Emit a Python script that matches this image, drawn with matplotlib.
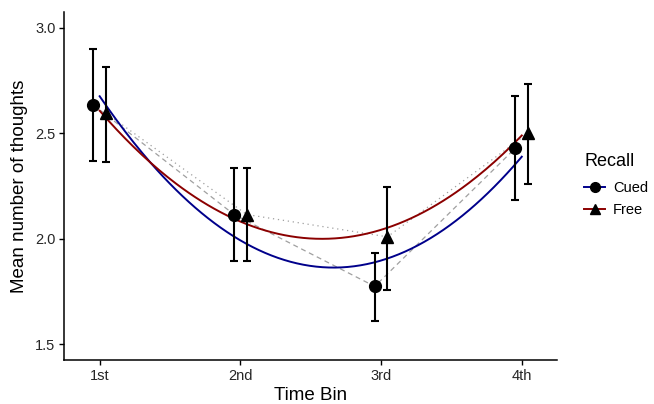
import numpy as np
import matplotlib.pyplot as plt
from matplotlib.lines import Line2D

# Data
bins = ["1st", "2nd", "3rd", "4th"]
cued_mean = [2.635, 2.115, 1.774, 2.43]
cued_low = [2.369, 1.895, 1.608, 2.185]
cued_high = [2.898, 2.335, 1.934, 2.676]
free_mean = [2.596, 2.115, 2.009, 2.501]
free_low = [2.365, 1.895, 1.756, 2.261]
free_high = [2.813, 2.335, 2.247, 2.736]

plt.rcParams['font.family'] = ['Liberation Sans', 'DejaVu Sans']

fig = plt.figure(figsize=(6.54, 4.04), dpi=100)
ax = fig.add_axes([0.0986, 0.109, 0.753, 0.861])

x = np.arange(1, len(bins) + 1)
dodge = 0.045
blue = "#00008B"
red = "#8B0000"


def plot_group(means, low, high, offset, ls, marker, ms, col):
    m = np.array(means)
    xd = x + offset
    # grey connector through dodged points
    ax.plot(xd, m, color="#a0a0a0", lw=0.9, ls=ls, zorder=1)
    # quadratic fit on undodged x
    coef = np.polyfit(x, m, 2)
    xs = np.linspace(1, 4, 200)
    ax.plot(xs, np.polyval(coef, xs), color=col, lw=1.4, zorder=2)
    err = [m - np.array(low), np.array(high) - m]
    ax.errorbar(xd, m, yerr=err, fmt="none", ecolor="black", elinewidth=1.5,
                capsize=3.2, capthick=1.5, zorder=3)
    ax.plot(xd, m, ls="none", marker=marker, ms=ms, color="black", zorder=4)


plot_group(cued_mean, cued_low, cued_high, -dodge, (0, (4, 3)), "o", 8.5, blue)
plot_group(free_mean, free_low, free_high, dodge, (0, (1, 3)), "^", 9, red)

ax.set_xlim(0.75, 4.25)
ax.set_ylim(1.425, 3.075)
ax.set_xticks(x)
ax.set_xticklabels(bins)
ax.set_yticks([1.5, 2.0, 2.5, 3.0])
ax.set_yticklabels(["1.5", "2.0", "2.5", "3.0"])
for s in ["top", "right"]:
    ax.spines[s].set_visible(False)
for s in ["left", "bottom"]:
    ax.spines[s].set_linewidth(1.1)
ax.tick_params(length=3.5, width=1.0, labelsize=10.5, colors="black",
               labelcolor="#262626", pad=3)
ax.set_xlabel("Time Bin", fontsize=13.5, labelpad=3)
ax.set_ylabel("Mean number of thoughts", fontsize=13.5, labelpad=5)

handles = [
    Line2D([], [], color=blue, lw=1.4, marker="o", ms=7, mfc="black", mec="black"),
    Line2D([], [], color=red, lw=1.4, marker="^", ms=7.5, mfc="black", mec="black"),
]
fig.text(585 / 654, 1 - 161 / 404, "Recall", fontsize=13, va="center", ha="left")
fig.legend(handles, ["Cued", "Free"], loc="center left",
           bbox_to_anchor=(584 / 654, 1 - 199 / 404), frameon=False,
           fontsize=10.5, handlelength=1.45, handletextpad=0.55,
           labelspacing=0.5, borderpad=0, borderaxespad=0)

fig.savefig("out.png", dpi=100)
